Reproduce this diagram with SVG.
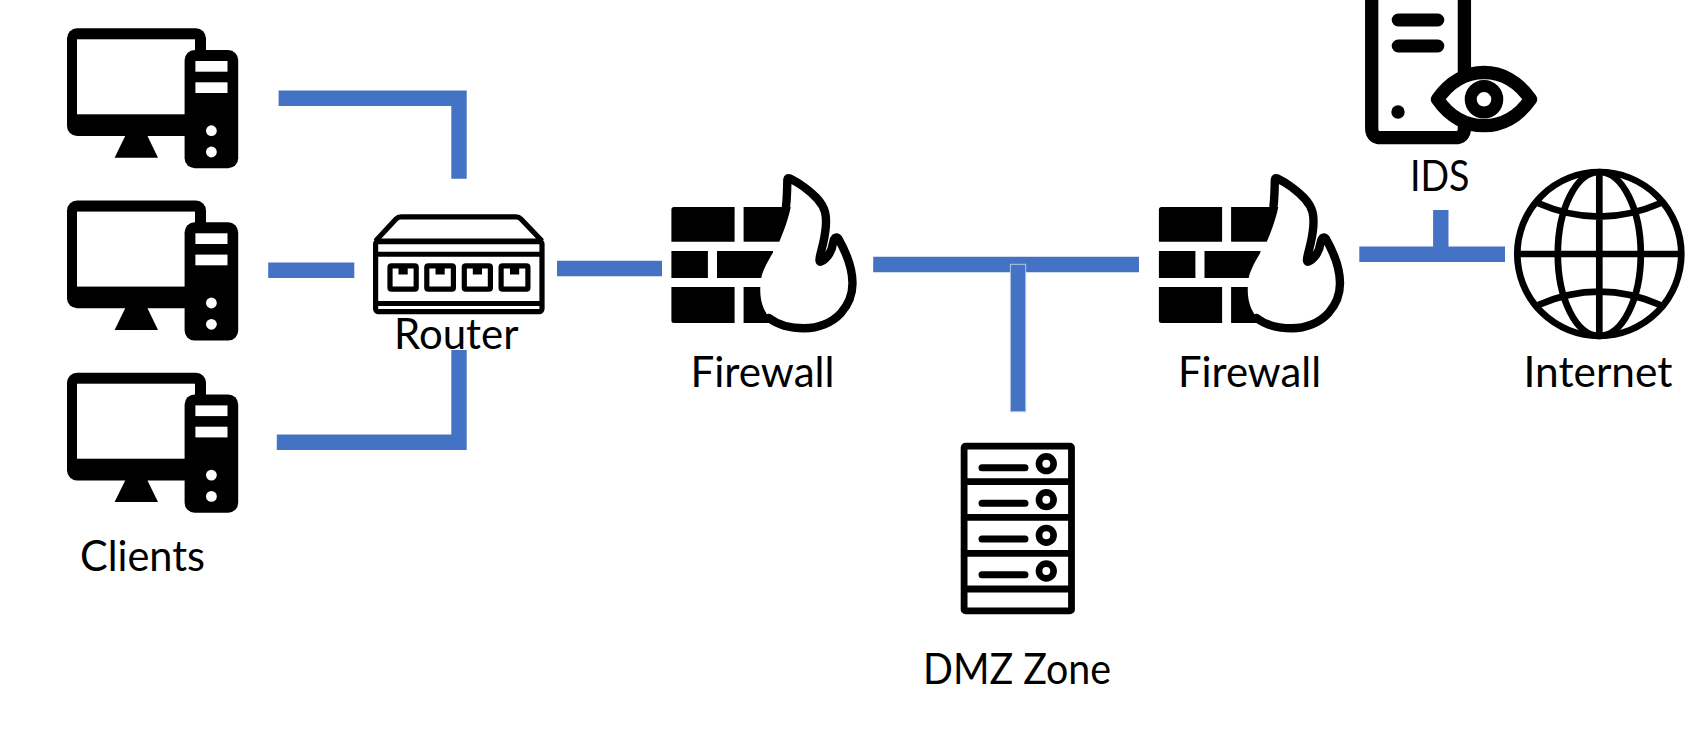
<svg xmlns="http://www.w3.org/2000/svg" xmlns:xlink="http://www.w3.org/1999/xlink" width="1696" height="738" viewBox="0 0 1696 738">
<style>
.lbl{font-family:"Lato","Liberation Sans",sans-serif;font-size:42px;fill:#000}
.wire{fill:none;stroke:#4472C4;stroke-width:15.4}
.o{fill:none;stroke:#000;stroke-linejoin:round}
.k{fill:#000}
.w{fill:#fff}
</style>
<defs>
<g id="pc">
<rect class="k" x="67" y="28.3" width="139" height="107.7" rx="10"/>
<rect class="w" x="77" y="39.3" width="118" height="75"/>
<path class="k" d="M125.7 135H147L158 157.7H114.6Z"/>
<rect class="k" x="184.6" y="50" width="53.6" height="118.3" rx="10"/>
<rect class="w" x="195.4" y="61" width="32.1" height="10.7"/>
<rect class="w" x="195.4" y="82.3" width="32.1" height="10.7"/>
<ellipse class="w" cx="211.4" cy="130.7" rx="5.4" ry="5.4"/>
<ellipse class="w" cx="211.4" cy="152" rx="5.4" ry="5.4"/>
</g>
<g id="fw">
<path class="k" d="M674 207H734.6V241.7H671.4V209.5Q671.4 207 674 207Z"/>
<rect class="k" x="743.6" y="207" width="50" height="34.7"/>
<rect class="k" x="671.4" y="251" width="36.5" height="27"/>
<rect class="k" x="717" y="251" width="56" height="27"/>
<path class="k" d="M671.4 287H734.6V323H674Q671.4 323 671.4 320.5Z"/>
<rect class="k" x="743.6" y="287" width="36" height="36"/>
<path class="w" d="M792.9 186.7C793 198 791 215 779.3 241.7C770 258 763 268 761 279C759.5 290 760 300 764 309C767 315 770 319 774 323L804 333L840 325L856 290L840 230L826 240L825 210L800 185Z"/>
<path class="o" stroke-width="8.4" stroke-linecap="round" d="M769 318C778 325 790 328.3 804.3 328.3C818 328.3 832 323 841 313C849 304 852.5 293 852.5 283.3C852.5 268 846 252 838.2 238.3C836 236 834 238 833 243C832 252 826 260 820.4 261.7C818 262 821 252 823 244C825.5 233 827.5 222 825 212C822 201 812 193 804 187C798 182.5 793 180 790 178.5C787.5 177.5 787.3 178.5 787.3 182C787 192 787 199 786 206"/>
</g>
</defs>
<g id="connectors">
<path class="wire" d="M278.6 98.3H459V178.7"/>
<path class="wire" d="M268.2 270.3H354.3"/>
<path class="wire" d="M276.8 442.3H459V350"/>
<path class="wire" d="M557 268.5H662"/>
<path class="wire" d="M873.2 264.5H1139"/>
<rect x="1010.4" y="264.3" width="15.3" height="147.4" fill="#4472C4" stroke="#B4C7E7" stroke-width="1"/>
<path class="wire" d="M1359.3 254.3H1505"/>
<path class="wire" d="M1440.8 210V254"/>
</g>
<g id="client-1"><use xlink:href="#pc" href="#pc"/></g>
<g id="client-2"><use xlink:href="#pc" href="#pc" y="172.3"/></g>
<g id="client-3"><use xlink:href="#pc" href="#pc" y="344.4"/><text class="lbl" x="80" y="570.7" textLength="125" lengthAdjust="spacingAndGlyphs">Clients</text></g>
<g id="router">
<path class="o" stroke-width="5.2" d="M375.6 241L396 219Q398 216.9 401 216.9H516Q519 216.9 521 219L542 241"/>
<rect class="o" stroke-width="5.2" x="375.6" y="241" width="166.4" height="70.7" rx="3"/>
<path class="o" stroke-width="5" d="M375.6 241.8H542M375.6 254.2H542M375.6 303.5H542"/>
<g class="o" stroke-width="5.2">
<rect x="390" y="265.8" width="26.2" height="23.4" rx="1.5"/>
<rect x="426.8" y="265.8" width="26.6" height="23.4" rx="1.5"/>
<rect x="464.3" y="265.8" width="26.1" height="23.4" rx="1.5"/>
<rect x="501.1" y="265.8" width="26.8" height="23.4" rx="1.5"/>
</g>
<g class="k">
<rect x="398.5" y="265" width="9.2" height="9.5"/>
<rect x="435.5" y="265" width="9.2" height="9.5"/>
<rect x="472.8" y="265" width="9.2" height="9.5"/>
<rect x="510" y="265" width="9.2" height="9.5"/>
</g>
<text class="lbl" x="394" y="349.3" textLength="124.5" lengthAdjust="spacingAndGlyphs">Router</text>
</g>
<g id="firewall-1"><use xlink:href="#fw" href="#fw"/><text class="lbl" x="690.5" y="386.7" textLength="144" lengthAdjust="spacingAndGlyphs">Firewall</text></g>
<g id="firewall-2"><use xlink:href="#fw" href="#fw" x="487.5"/><text class="lbl" x="1178" y="386.7" textLength="143" lengthAdjust="spacingAndGlyphs">Firewall</text></g>
<g id="dmz">
<rect class="o" stroke-width="6.8" x="964.1" y="446.1" width="107.4" height="164.8" rx="1.5"/>
<path class="o" stroke-width="6.8" d="M964 481.7H1072M964 517.3H1072M964 553.3H1072M964 589H1072"/>
<path class="o" stroke-width="7" stroke-linecap="round" d="M982 467.7H1025M982 503.3H1025M982 539H1025M982 574.7H1025"/>
<g class="o" stroke-width="6.7"><circle cx="1046.3" cy="463.7" r="7.3"/><circle cx="1046.3" cy="499.7" r="7.3"/><circle cx="1046.3" cy="535.3" r="7.3"/><circle cx="1046.3" cy="571" r="7.3"/></g>
<text class="lbl" x="923" y="684.3" textLength="188" lengthAdjust="spacingAndGlyphs">DMZ Zone</text>
</g>
<g id="ids">
<path class="o" stroke-width="13.3" d="M1371.7 -5V128Q1371.7 137.7 1381 137.7H1455Q1464.4 137.7 1464.4 128V-5" fill="#fff"/>
<path class="o" stroke-width="13" stroke-linecap="round" d="M1398.2 20H1437.8M1398.2 46H1437.8"/>
<circle class="k" cx="1398" cy="112" r="6.7"/>
<path fill="#fff" stroke="#000" stroke-width="13.3" stroke-linejoin="round" d="M1437.5 99.3C1450 81 1467 72.5 1484 72.5C1501 72.5 1518 81 1530.5 99.3C1518 117.5 1501 125.7 1484 125.7C1467 125.7 1450 117.5 1437.5 99.3Z"/>
<circle class="o" stroke-width="12" cx="1484" cy="99.3" r="13.3"/>
<text class="lbl" x="1410" y="190.7" textLength="59.5" lengthAdjust="spacingAndGlyphs">IDS</text>
</g>
<g id="internet">
<g class="o" stroke-width="6.7">
<circle cx="1599.3" cy="254" r="82"/>
<ellipse cx="1599.3" cy="254" rx="41.5" ry="82"/>
<path d="M1599.3 172V336M1517.3 254H1681.3M1538.3 203.3Q1599.3 230 1660.3 203.3M1538.3 305Q1599.3 278.4 1660.3 305"/>
</g>
<text class="lbl" x="1523.5" y="387.3" textLength="149" lengthAdjust="spacingAndGlyphs">Internet</text>
</g>
</svg>
